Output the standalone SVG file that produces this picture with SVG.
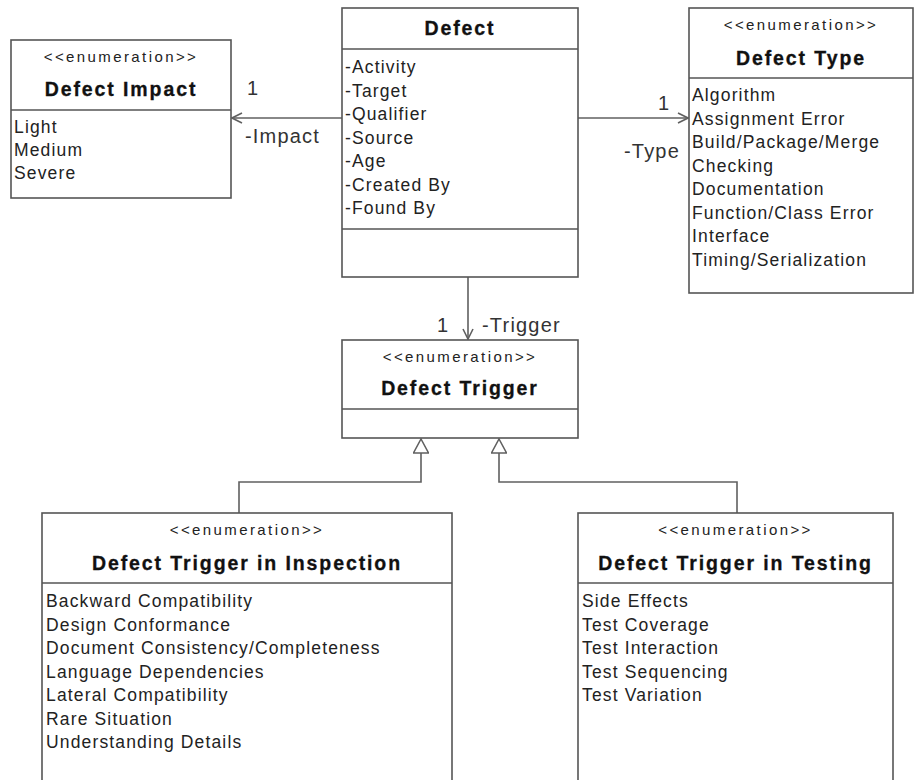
<svg xmlns="http://www.w3.org/2000/svg" width="915" height="780" viewBox="0 0 915 780">
  <style>
    .box { fill: #ffffff; stroke: #555555; stroke-width: 1.6; }
    .sep { stroke: #555555; stroke-width: 1.6; }
    .edge { fill: none; stroke: #606060; stroke-width: 1.6; }
    .stereo { font-family: "Liberation Sans", Arial, sans-serif; font-size: 15px; letter-spacing: 2.4px; fill: #222; text-anchor: middle; }
    .title { font-family: "Liberation Sans", Arial, sans-serif; font-size: 19.5px; font-weight: bold; letter-spacing: 1.9px; fill: #111; text-anchor: middle; stroke: #111; stroke-width: 0.3px; }
    .item { font-family: "Liberation Sans", Arial, sans-serif; font-size: 17.5px; letter-spacing: 1.15px; fill: #222; }
    .lbl { font-family: "Liberation Sans", Arial, sans-serif; font-size: 20px; letter-spacing: 1.2px; fill: #333; }
  </style>
  <defs>
    <marker id="open" viewBox="0 0 12 12" refX="11" refY="6" markerWidth="12" markerHeight="12" markerUnits="userSpaceOnUse" orient="auto">
      <path d="M1,1 L11,6 L1,11" fill="none" stroke="#606060" stroke-width="1.6"/>
    </marker>
    <marker id="gen" viewBox="0 0 16 16" refX="15" refY="8" markerWidth="16" markerHeight="16" markerUnits="userSpaceOnUse" orient="auto">
      <path d="M1,0.5 L15,8 L1,15.5 Z" fill="#ffffff" stroke="#606060" stroke-width="1.5"/>
    </marker>
  </defs>
  <rect width="915" height="780" fill="#ffffff"/>

  <!-- connectors -->
  <g id="connectors">
    <line class="edge" x1="342" y1="118" x2="232" y2="118" marker-end="url(#open)"/>
    <text class="lbl" x="247" y="95">1</text>
    <text class="lbl" x="245" y="143">-Impact</text>

    <line class="edge" x1="578" y1="118" x2="688" y2="118" marker-end="url(#open)"/>
    <text class="lbl" x="658" y="110">1</text>
    <text class="lbl" x="624" y="158">-Type</text>

    <line class="edge" x1="468" y1="277" x2="468" y2="339" marker-end="url(#open)"/>
    <text class="lbl" x="437" y="332">1</text>
    <text class="lbl" x="482" y="332">-Trigger</text>

    <polyline class="edge" points="239,513 239,482 421,482 421,439" marker-end="url(#gen)"/>
    <polyline class="edge" points="737,513 737,482 499,482 499,439" marker-end="url(#gen)"/>
  </g>

  <!-- Defect Impact -->
  <g id="defect-impact">
    <rect class="box" x="11" y="40" width="220" height="158"/>
    <line class="sep" x1="11" y1="110" x2="231" y2="110"/>
    <text class="stereo" x="121" y="62">&lt;&lt;enumeration&gt;&gt;</text>
    <text class="title" x="121" y="96">Defect Impact</text>
    <text class="item" x="14" y="133">Light</text>
    <text class="item" x="14" y="156">Medium</text>
    <text class="item" x="14" y="179">Severe</text>
  </g>

  <!-- Defect -->
  <g id="defect">
    <rect class="box" x="342" y="8" width="236" height="269"/>
    <line class="sep" x1="342" y1="49" x2="578" y2="49"/>
    <line class="sep" x1="342" y1="229" x2="578" y2="229"/>
    <text class="title" x="460" y="35">Defect</text>
    <text class="item" x="345" y="73">-Activity</text>
    <text class="item" x="345" y="96.5">-Target</text>
    <text class="item" x="345" y="120">-Qualifier</text>
    <text class="item" x="345" y="143.5">-Source</text>
    <text class="item" x="345" y="167">-Age</text>
    <text class="item" x="345" y="190.5">-Created By</text>
    <text class="item" x="345" y="214">-Found By</text>
  </g>

  <!-- Defect Type -->
  <g id="defect-type">
    <rect class="box" x="689" y="8" width="224" height="285"/>
    <line class="sep" x1="689" y1="78" x2="913" y2="78"/>
    <text class="stereo" x="801" y="30">&lt;&lt;enumeration&gt;&gt;</text>
    <text class="title" x="801" y="65">Defect Type</text>
    <text class="item" x="692" y="101">Algorithm</text>
    <text class="item" x="692" y="124.5">Assignment Error</text>
    <text class="item" x="692" y="148">Build/Package/Merge</text>
    <text class="item" x="692" y="171.5">Checking</text>
    <text class="item" x="692" y="195">Documentation</text>
    <text class="item" x="692" y="218.5">Function/Class Error</text>
    <text class="item" x="692" y="242">Interface</text>
    <text class="item" x="692" y="265.5">Timing/Serialization</text>
  </g>

  <!-- Defect Trigger -->
  <g id="defect-trigger">
    <rect class="box" x="342" y="340" width="236" height="98"/>
    <line class="sep" x1="342" y1="409" x2="578" y2="409"/>
    <text class="stereo" x="460" y="362">&lt;&lt;enumeration&gt;&gt;</text>
    <text class="title" x="460" y="395">Defect Trigger</text>
  </g>

  <!-- Defect Trigger in Inspection -->
  <g id="trigger-inspection">
    <rect class="box" x="42" y="513" width="410" height="280"/>
    <line class="sep" x1="42" y1="583" x2="452" y2="583"/>
    <text class="stereo" x="247" y="535">&lt;&lt;enumeration&gt;&gt;</text>
    <text class="title" x="247" y="570">Defect Trigger in Inspection</text>
    <text class="item" x="46" y="607">Backward Compatibility</text>
    <text class="item" x="46" y="630.5">Design Conformance</text>
    <text class="item" x="46" y="654">Document Consistency/Completeness</text>
    <text class="item" x="46" y="677.5">Language Dependencies</text>
    <text class="item" x="46" y="701">Lateral Compatibility</text>
    <text class="item" x="46" y="724.5">Rare Situation</text>
    <text class="item" x="46" y="748">Understanding Details</text>
  </g>

  <!-- Defect Trigger in Testing -->
  <g id="trigger-testing">
    <rect class="box" x="578" y="513" width="315" height="280"/>
    <line class="sep" x1="578" y1="583" x2="893" y2="583"/>
    <text class="stereo" x="735.5" y="535">&lt;&lt;enumeration&gt;&gt;</text>
    <text class="title" x="735.5" y="570">Defect Trigger in Testing</text>
    <text class="item" x="582" y="607">Side Effects</text>
    <text class="item" x="582" y="630.5">Test Coverage</text>
    <text class="item" x="582" y="654">Test Interaction</text>
    <text class="item" x="582" y="677.5">Test Sequencing</text>
    <text class="item" x="582" y="701">Test Variation</text>
  </g>
</svg>
